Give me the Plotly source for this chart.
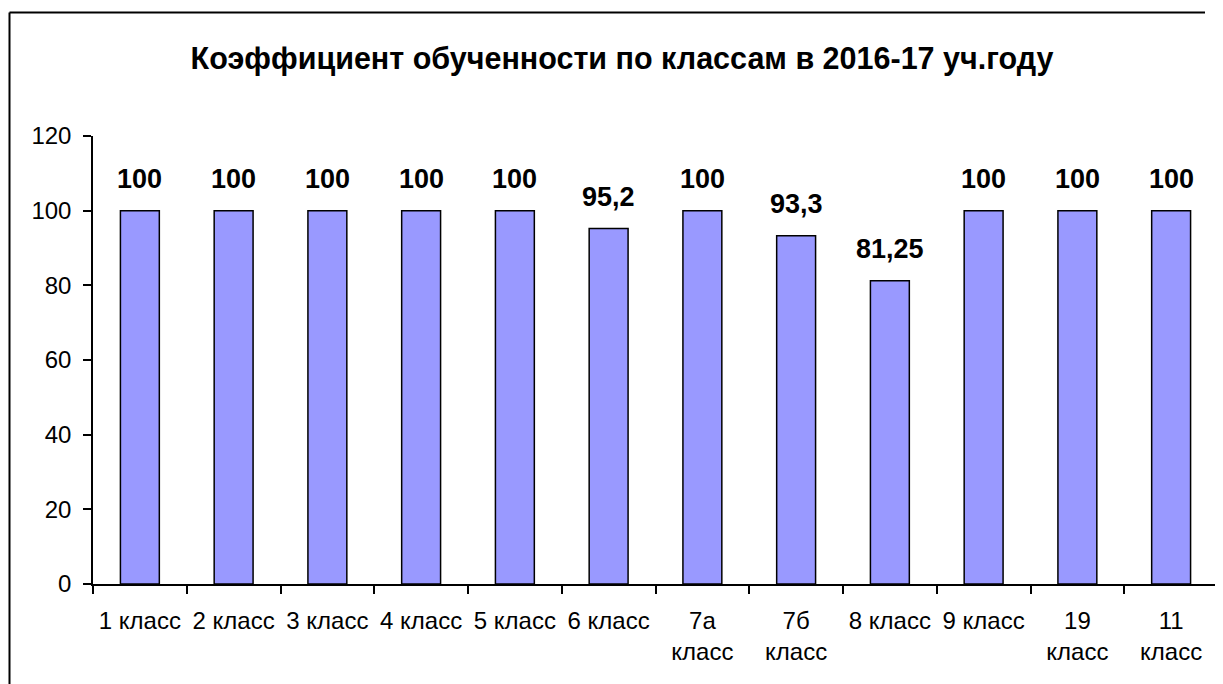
import plotly.graph_objects as go

categories = ["1 класс", "2 класс", "3 класс", "4 класс", "5 класс", "6 класс",
              "7а<br>класс", "7б<br>класс", "8 класс", "9 класс", "19<br>класс", "11<br>класс"]
values = [100, 100, 100, 100, 100, 95.2, 100, 93.3, 81.25, 100, 100, 100]
labels = [("%g" % v).replace(".", ",") for v in values]
y_ticks = [0, 20, 40, 60, 80, 100, 120]

# page body adds an 8px offset; compensate in margins and size
OFF = 8
W, H = 1223 - OFF, 684 - OFF
ML, MT = 93 - OFF, 136 - OFF
MR = W - (1218 - OFF)
MB = H - (584 - OFF)
pw, ph = W - ML - MR, H - MT - MB

fig = go.Figure()
fig.add_trace(go.Bar(
    x=categories, y=values, width=0.415,
    marker=dict(color="#9999FF", line=dict(color="black", width=1.5)),
    hoverinfo="skip",
))
for c, v, t in zip(categories, values, labels):
    fig.add_annotation(x=c, y=v, text="<b>%s</b>" % t, showarrow=False,
                       yanchor="bottom", yshift=15,
                       font=dict(family="Liberation Sans, Arial", size=27, color="black"))

# outer frame: only top and left edges are visible in the reference
bx = (9.5 - OFF - ML) / pw
by = (H - MB - (12.5 - OFF)) / ph
bx1 = (1205 - OFF - ML) / pw
fig.add_shape(type="line", xref="paper", yref="paper", x0=bx, x1=bx1, y0=by, y1=by,
              line=dict(color="black", width=2), layer="above")
fig.add_shape(type="line", xref="paper", yref="paper", x0=bx, x1=bx, y0=by, y1=-MB / ph,
              line=dict(color="black", width=2), layer="above")

fig.update_layout(
    width=W, height=H,
    margin=dict(l=ML, r=MR, t=MT, b=MB),
    paper_bgcolor="white", plot_bgcolor="white",
    showlegend=False,
    font=dict(family="Liberation Sans, Arial", color="black", size=24),
    title=dict(text="<b>Коэффициент обученности по классам в 2016-17 уч.году</b>",
               x=(622 - OFF) / W, xanchor="center", y=1 - (58 - OFF) / H, yanchor="middle",
               font=dict(size=30.5, family="Liberation Sans, Arial", color="black")),
)
fig.update_xaxes(
    showline=True, linecolor="black", linewidth=1.5,
    ticks="outside", tickson="boundaries", ticklen=8, tickcolor="black", tickwidth=1.5,
    showgrid=False, tickangle=0, tickfont=dict(size=24), ticklabelstandoff=14,
)
fig.update_yaxes(
    range=[0, 120], tickvals=y_ticks, showline=True, linecolor="black", linewidth=1.5,
    ticks="outside", ticklen=8, tickcolor="black", tickwidth=1.5,
    showgrid=False, zeroline=False, tickfont=dict(size=24), ticklabelstandoff=7,
)
fig.write_html("out.html")
